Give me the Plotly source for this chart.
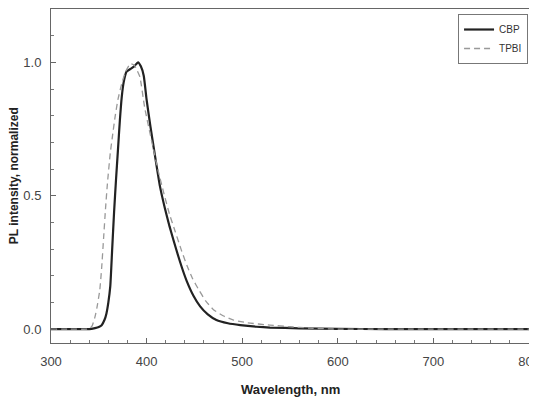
import plotly.graph_objects as go

# PL spectra, normalized
cbp_wl = [300, 320, 340, 346, 350, 353, 356, 358, 360, 362, 364, 366, 368, 370, 372,
          374, 376, 379, 383, 387, 391, 394, 397, 400, 404, 409, 414, 419, 424, 428,
          433, 437, 442, 449, 456, 464, 473, 485, 498, 515, 529, 560, 600, 650, 700, 800]
cbp_pl = [0, 0, 0, 0.004, 0.008, 0.015, 0.035, 0.059, 0.10, 0.16, 0.30, 0.44, 0.56, 0.67, 0.78,
          0.87, 0.925, 0.965, 0.975, 0.985, 1.0, 0.985, 0.95, 0.86, 0.76, 0.645, 0.535, 0.455, 0.385, 0.335,
          0.275, 0.23, 0.18, 0.125, 0.085, 0.055, 0.034, 0.022, 0.015, 0.009, 0.006, 0.003, 0.001, 0, 0, 0]

tpbi_wl = [300, 320, 338, 341, 343, 346, 348, 351, 353, 355, 357, 359, 362, 364, 367,
           370, 374, 378, 383, 387, 390, 393, 398, 405, 412, 418, 424, 430, 436, 442,
           448, 455, 462, 470, 480, 491, 505, 529, 550, 570, 590, 600, 700, 800]
tpbi_pl = [0, 0, 0, 0.004, 0.012, 0.046, 0.08, 0.146, 0.23, 0.34, 0.45, 0.545, 0.66, 0.715, 0.795,
           0.86, 0.92, 0.965, 0.995, 0.99, 0.97, 0.945, 0.83, 0.71, 0.595, 0.51, 0.43, 0.365, 0.30, 0.24,
           0.19, 0.145, 0.105, 0.073, 0.05, 0.034, 0.024, 0.015, 0.009, 0.004, 0.001, 0, 0, 0]

font = 'Liberation Sans, Arial, sans-serif'

fig = go.Figure()
fig.add_trace(go.Scatter(
    x=cbp_wl, y=cbp_pl, name='CBP', mode='lines',
    line=dict(color='#222', width=2.2, shape='spline', smoothing=0.5)
))
fig.add_trace(go.Scatter(
    x=tpbi_wl, y=tpbi_pl, name='TPBI', mode='lines',
    line=dict(color='#999', width=1.3, dash='6px,4px', shape='spline', smoothing=0.5)
))

axis_common = dict(
    showline=True, linecolor='#666', linewidth=1, mirror=True,
    ticks='inside', ticklen=5, tickcolor='#666',
    showgrid=False, zeroline=False, automargin=False,
    ticklabeloverflow='allow',
    tickfont=dict(family=font, size=13, color='#444'),
)

fig.update_xaxes(
    range=[300, 800], dtick=100, tick0=300,
    minor=dict(dtick=20, ticks='inside', ticklen=3, tickcolor='#777'),
    ticklabelstandoff=6,
    **axis_common
)
fig.update_yaxes(
    range=[-0.052, 1.2], tickvals=[0, 0.5, 1.0], tickformat='.1f',
    minor=dict(tickvals=[0.1, 0.2, 0.3, 0.4, 0.6, 0.7, 0.8, 0.9, 1.1],
               ticks='inside', ticklen=3, tickcolor='#777'),
    ticklabelstandoff=6,
    **axis_common
)

fig.add_annotation(
    text='<b>Wavelength, nm</b>', xref='paper', yref='paper',
    x=0.5, y=-0.138, xanchor='center', yanchor='middle', showarrow=False,
    font=dict(family=font, size=13, color='#222')
)
fig.add_annotation(
    text='<b>PL intensity, normalized</b>', xref='paper', yref='paper',
    x=-0.077, y=0.5, xanchor='center', yanchor='middle', showarrow=False,
    textangle=-90, font=dict(family=font, size=12, color='#222')
)

# the page body adds an 8px offset, so the figure is 8px smaller than the window
fig.update_layout(
    width=529, height=392,
    margin=dict(l=43, r=8, t=1, b=57, autoexpand=False),
    paper_bgcolor='white', plot_bgcolor='white',
    showlegend=True,
    legend=dict(
        x=0.998, y=0.985, xanchor='right', yanchor='top',
        bgcolor='white', bordercolor='#777', borderwidth=1,
        font=dict(family=font, size=10, color='#333'),
        tracegroupgap=0, itemwidth=30,
    ),
)

fig.write_html("out.html")
